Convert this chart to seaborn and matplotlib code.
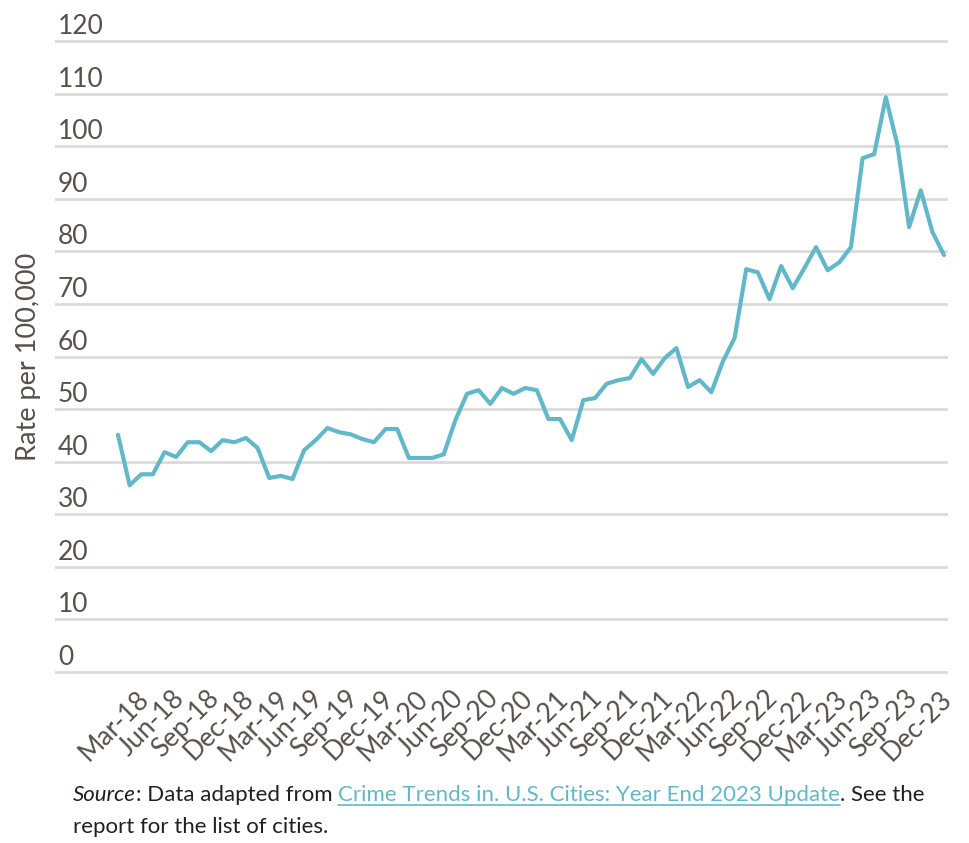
import numpy as np
import pandas as pd
import matplotlib
matplotlib.use("Agg")
import matplotlib.pyplot as plt
import matplotlib.transforms as mtransforms
from matplotlib.lines import Line2D
import seaborn as sns

# monthly rate per 100,000, Jan-18 .. Dec-23
months = pd.date_range("2018-01-01", "2023-12-01", freq="MS")
rate = [45.1, 35.5, 37.6, 37.6, 41.8, 40.9, 43.7, 43.7, 42.0, 44.1, 43.7, 44.5,
        42.6, 36.9, 37.3, 36.7, 42.2, 44.1, 46.4, 45.6, 45.2, 44.3, 43.7, 46.2,
        46.2, 40.7, 40.7, 40.7, 41.4, 47.9, 52.9, 53.6, 51.0, 54.0, 52.9, 54.0,
        53.6, 48.1, 48.1, 44.1, 51.7, 52.1, 54.8, 55.5, 55.9, 59.5, 56.7, 59.7,
        61.6, 54.2, 55.5, 53.2, 59.1, 63.5, 76.6, 76.0, 70.9, 77.2, 73.0, 76.8,
        80.8, 76.4, 77.9, 80.8, 97.7, 98.5, 109.3, 100.2, 84.6, 91.6, 83.7, 79.3]
yticks = list(range(0, 121, 10))
ylabel = "Rate per 100,000"

TEXT = "#57504b"
LINE = "#62b8c9"
GRID = "#dadada"
W, H = 969, 843

sns.set_theme(style="white")
plt.rcParams["font.family"] = ["Lato", "DejaVu Sans"]

df = pd.DataFrame({"month": months, "rate": rate})
df["pos"] = np.arange(len(df))
df["label"] = df["month"].dt.strftime("%b-%y")

fig = plt.figure(figsize=(W / 100, H / 100), dpi=100)
# y: 0 -> 672px, 120 -> 41px ; x: idx 0 -> 118px, idx 71 -> 944px
ypx = (672 - 41) / 120
xpx = (944 - 118) / 71
y0, y1 = -0.6, 120.6
x0, x1 = -(118 - 55) / xpx, 71 + (948 - 944) / xpx
top = 41 - (y1 - 120) * ypx
bot = 672 + (0 - y0) * ypx
ax = fig.add_axes([55 / W, (H - bot) / H, (948 - 55) / W, (bot - top) / H])

sns.lineplot(data=df, x="pos", y="rate", ax=ax, color=LINE, lw=3)
ax.set_xlim(x0, x1)
ax.set_ylim(y0, y1)
sns.despine(ax=ax, left=True, bottom=True)

ax.set_yticks(yticks)
ax.yaxis.grid(True, color=GRID, lw=2)
ax.xaxis.grid(False)
ax.tick_params(axis="y", length=0, pad=-2, labelsize=19, labelcolor=TEXT)
off = mtransforms.ScaledTranslation(0, 7 / 100, fig.dpi_scale_trans)
for lab in ax.get_yticklabels():
    lab.set_ha("left")
    lab.set_va("baseline")
    lab.set_transform(lab.get_transform() + off)

sub = df.iloc[2::3]
ax.set_xticks(sub["pos"])
ax.set_xticklabels(sub["label"], rotation=45, ha="right", va="center",
                   rotation_mode="anchor")
ax.tick_params(axis="x", length=0, pad=14, labelsize=19, labelcolor=TEXT)
xoff = mtransforms.ScaledTranslation(4 / 100, 0, fig.dpi_scale_trans)
for lab in ax.get_xticklabels():
    lab.set_transform(lab.get_transform() + xoff)

ax.set_xlabel("")
ax.set_ylabel(ylabel, fontsize=19.5, color=TEXT, labelpad=0)
ax.yaxis.set_label_coords(-14 / (948 - 55), 0.5)

# caption with mixed styles
fig.canvas.draw()
rend = fig.canvas.get_renderer()
ident = mtransforms.IdentityTransform()
CAP = "#231f20"


def caption_line(x, y, pieces):
    for text, style, color, underline in pieces:
        t = fig.text(x, y, text, transform=ident, fontsize=16, color=color,
                     style=style, va="baseline", ha="left")
        bb = t.get_window_extent(rend)
        if underline:
            fig.add_artist(Line2D([x, x + bb.width], [y - 4, y - 4], color=color,
                                  lw=1.2, transform=ident))
        x += bb.width


caption_line(73, H - 801, [
    ("Source", "italic", CAP, False),
    (": Data adapted from\u00a0", "normal", CAP, False),
    ("Crime Trends in. U.S. Cities: Year End 2023 Update", "normal", LINE, True),
    (". See the", "normal", CAP, False),
])
caption_line(73, H - 833, [("report for the list of cities.", "normal", CAP, False)])

fig.savefig("out.png", dpi=100)
